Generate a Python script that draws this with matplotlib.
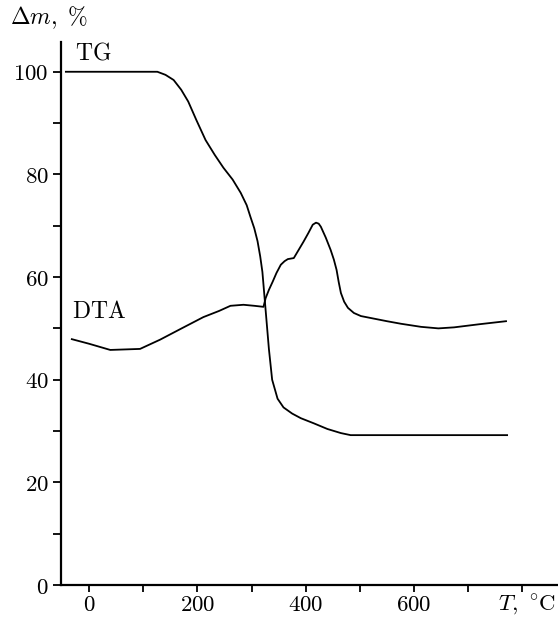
import matplotlib
matplotlib.use("Agg")
import matplotlib.pyplot as plt
from matplotlib.ticker import MultipleLocator, FixedLocator, FixedFormatter

plt.rcParams['mathtext.fontset'] = 'cm'
plt.rcParams['font.family'] = ['DejaVu Serif']

# TG curve (mass loss, %)
tg_T = [-43, 126, 141, 156, 170, 183, 198, 215, 232, 248, 265, 280, 291, 298, 305, 311, 316, 320, 324, 328, 332, 338, 348, 359, 375, 391, 415, 440, 465, 483, 772]
tg_m = [100, 100, 99.4, 98.4, 96.5, 94.2, 90.6, 86.7, 83.8, 81.3, 79.0, 76.4, 74.0, 71.7, 69.5, 67.0, 64.0, 61.0, 56.0, 51.0, 46.0, 40.0, 36.3, 34.6, 33.4, 32.5, 31.5, 30.4, 29.6, 29.2, 29.2]

# DTA curve
dta_T = [-32, 0, 39, 94, 131, 169, 211, 240, 261, 285, 305, 322, 326, 332, 339, 346, 354, 361, 367, 378, 387, 396, 405, 413, 419, 424, 428, 437, 446, 452, 457, 461, 465, 471, 478, 489, 502, 526, 550, 576, 613, 645, 674, 720, 770]
dta_v = [47.9, 47.0, 45.8, 46.0, 47.8, 49.9, 52.2, 53.4, 54.4, 54.6, 54.4, 54.2, 55.9, 57.5, 59.1, 60.8, 62.4, 63.1, 63.5, 63.7, 65.3, 66.9, 68.6, 70.2, 70.6, 70.4, 69.8, 67.7, 65.3, 63.4, 61.4, 59.0, 56.9, 55.2, 54.0, 53.0, 52.4, 51.9, 51.4, 50.9, 50.3, 50.0, 50.2, 50.8, 51.4]

x_ticks = [0, 100, 200, 300, 400, 500, 600, 700, 800]
x_labels = ['$0$', '', '$200$', '', '$400$', '', '$600$', '', '']
y_major = [0, 20, 40, 60, 80, 100]

fig = plt.figure(figsize=(5.58, 6.17), dpi=100)
ax = fig.add_axes([61/558, 32/617, 1 - 61/558, (585-42)/617])

ax.plot(tg_T, tg_m, color='black', lw=1.3, solid_joinstyle='round')
ax.plot(dta_T, dta_v, color='black', lw=1.3, solid_joinstyle='round')

ax.set_xlim(-52, 866)
ax.set_ylim(0, 105.8)

for s in ['top', 'right']:
    ax.spines[s].set_visible(False)
for s in ['left', 'bottom']:
    ax.spines[s].set_linewidth(1.6)

ax.xaxis.set_major_locator(FixedLocator(x_ticks))
ax.xaxis.set_major_formatter(FixedFormatter(x_labels))
ax.yaxis.set_major_locator(FixedLocator(y_major))
ax.yaxis.set_major_formatter(FixedFormatter(['$%d$' % v for v in y_major]))
ax.yaxis.set_minor_locator(MultipleLocator(10))

ax.tick_params(axis='both', which='both', direction='out', length=6, width=1.3, labelsize=16.5, colors='black')
ax.tick_params(axis='y', which='major', pad=3)
ax.tick_params(axis='x', which='major', length=5, pad=1.5)

ax.text(-27, 103.6, r'$\mathrm{TG}$', fontsize=17, ha='left', va='center')
ax.text(-31, 53.3, r'$\mathrm{DTA}$', fontsize=17, ha='left', va='center')
fig.text(10/558, 1 - 18/617, r'$\Delta m,\ \%$', fontsize=17, ha='left', va='center')
fig.text(556/558, 1 - 605/617, r'$T,\ {}^{\circ}\mathrm{C}$', fontsize=16.5, ha='right', va='center')

fig.savefig('out.png', dpi=100, facecolor='white')
